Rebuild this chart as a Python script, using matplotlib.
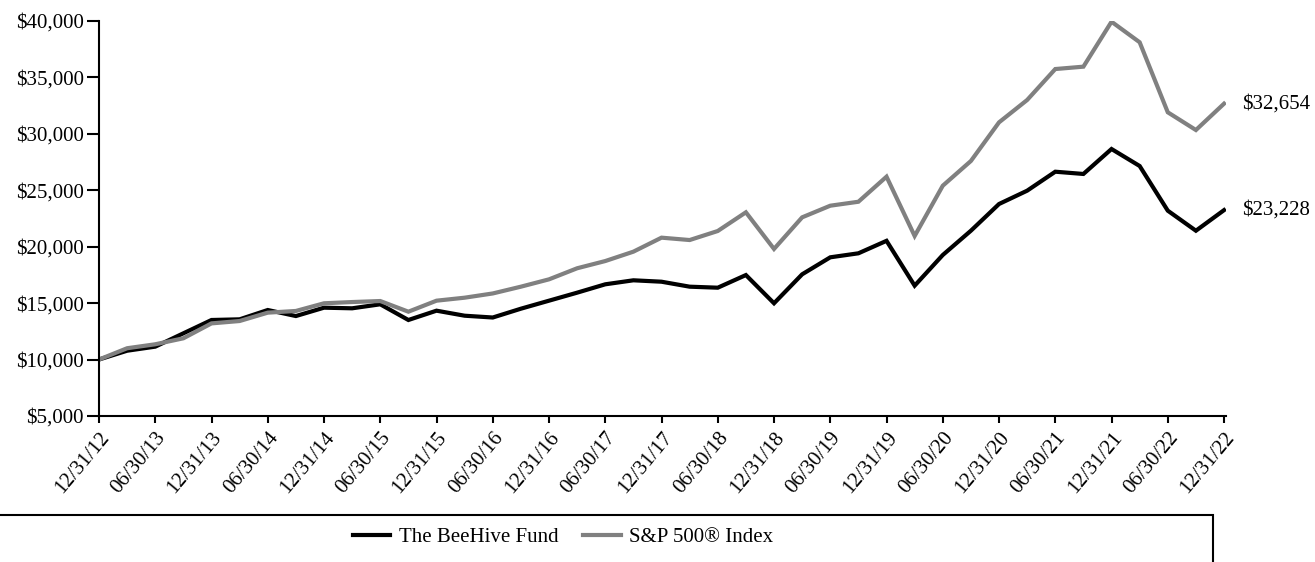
import matplotlib
matplotlib.use('Agg')
import matplotlib.pyplot as plt
from matplotlib.patches import Rectangle
from matplotlib.ticker import FuncFormatter

# Quarterly values of a $10,000 investment, 12/31/12 .. 12/31/22
fund = [10000, 10780, 11140, 12320, 13500, 13560, 14385, 13850, 14590, 14535,
        14890, 13500, 14325, 13880, 13720, 14500, 15210, 15920, 16660, 17015,
        16890, 16450, 16360, 17480, 14980, 17545, 19050, 19405, 20510, 16540,
        19255, 21405, 23770, 24950, 26630, 26430, 28640, 27135, 23180, 21405,
        23228]
sp500 = [10000, 11000, 11350, 11880, 13200, 13410, 14150, 14300, 14980, 15090,
         15180, 14235, 15210, 15475, 15850, 16450, 17100, 18080, 18720, 19550,
         20790, 20580, 21380, 23035, 19790, 22590, 23620, 23970, 26190, 20940,
         25390, 27580, 31000, 32980, 35720, 35930, 39910, 38090, 31890, 30320,
         32654]
tick_labels = ['12/31/12', '06/30/13', '12/31/13', '06/30/14', '12/31/14',
               '06/30/15', '12/31/15', '06/30/16', '12/31/16', '06/30/17',
               '12/31/17', '06/30/18', '12/31/18', '06/30/19', '12/31/19',
               '06/30/20', '12/31/20', '06/30/21', '12/31/21', '06/30/22',
               '12/31/22']
series_names = ['The BeeHive Fund', 'S&P 500® Index']
colors = ['#000000', '#808080']

plt.rcParams['font.family'] = ['Liberation Serif', 'DejaVu Serif']
plt.rcParams['font.size'] = 15

fig = plt.figure(figsize=(13.15, 5.62), dpi=100)
ax = fig.add_axes([99 / 1315, 1 - 416 / 562, (1226 - 99) / 1315, (416 - 20.7) / 562])

x = list(range(len(fund)))
ax.plot(x, fund, color=colors[0], lw=3, label=series_names[0], solid_joinstyle='miter')
ax.plot(x, sp500, color=colors[1], lw=3, label=series_names[1], solid_joinstyle='miter')

ax.set_xlim(0, 40.07)
ax.set_ylim(5000, 40000)
ax.set_yticks(range(5000, 40001, 5000))
ax.yaxis.set_major_formatter(FuncFormatter(lambda v, p: '${:,.0f}'.format(v)))
ax.set_xticks(range(0, len(fund), 2))
ax.set_xticklabels(tick_labels, rotation=50, ha='right', va='top', rotation_mode='anchor')

for s in ['top', 'right']:
    ax.spines[s].set_visible(False)
for s in ['left', 'bottom']:
    ax.spines[s].set_linewidth(1.5)
ax.tick_params(axis='y', length=9, width=1.5, pad=2)
ax.tick_params(axis='x', length=5, width=1.5, pad=4)

# end-point labels
ax.annotate('${:,.0f}'.format(sp500[-1]), (x[-1], sp500[-1]), xytext=(13, 0),
            textcoords='offset points', va='center', ha='left', annotation_clip=False)
ax.annotate('${:,.0f}'.format(fund[-1]), (x[-1], fund[-1]), xytext=(13, 0),
            textcoords='offset points', va='center', ha='left', annotation_clip=False)

# legend box (runs off the left and bottom of the figure)
fig.patches.append(Rectangle((-0.01, -0.05), 1213 / 1315 + 0.01, 0.05 + (562 - 515) / 562,
                             transform=fig.transFigure, fill=False, lw=1.5,
                             edgecolor='black', clip_on=False))
fig.legend(loc='center', bbox_to_anchor=(563 / 1315, 1 - 537 / 562), ncol=2,
           frameon=False, handlelength=1.8, columnspacing=1.2, handletextpad=0.4)

fig.savefig('out.png', dpi=100)
